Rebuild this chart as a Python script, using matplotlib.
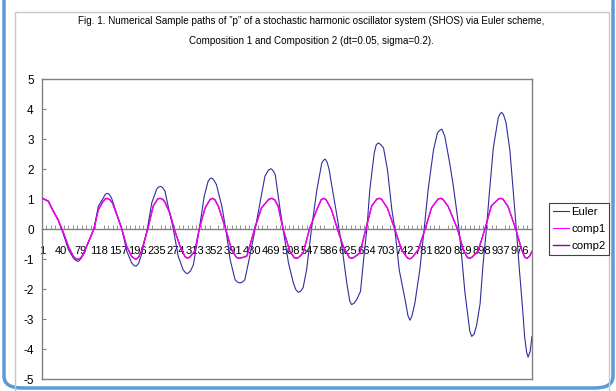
import matplotlib
matplotlib.use("Agg")
import matplotlib.pyplot as plt
from matplotlib.lines import Line2D
from matplotlib.patches import Rectangle, FancyBboxPatch
from matplotlib.ticker import FixedLocator

plt.rcParams['font.family'] = ['Liberation Sans', 'DejaVu Sans']

# values (category index, p)
euler_t = [1, 14, 24, 34, 45, 55, 65, 70, 75, 80, 85, 95, 107, 116, 126, 130, 134, 138,
           143, 153, 164, 174, 184, 189, 193, 198, 204, 216, 225, 235, 239, 243, 247,
           252, 260, 269, 279, 289, 294, 298, 304, 310, 322, 332, 340, 344, 347, 351,
           357, 368, 376, 385, 395, 400, 405, 410, 415, 425, 436, 446, 456, 463, 468,
           472, 477, 487, 493, 504, 514, 519, 524, 529, 534, 541, 551, 562, 572, 576,
           579, 583, 587, 592, 602, 613, 623, 629, 633, 638, 643, 651, 658, 664, 670,
           679, 683, 687, 692, 698, 706, 715, 721, 730, 742, 748, 752, 756, 762, 772,
           781, 789, 800, 808, 812, 817, 823, 833, 840, 847, 852, 858, 864, 871, 874,
           878, 883, 888, 895, 901, 908, 914, 922, 932, 935, 939, 943, 948, 956, 963,
           969, 975, 982, 986, 990, 993, 997, 1001]
euler_p = [1.03, 0.92, 0.59, 0.31, -0.19, -0.69, -0.97, -1.05, -1.08, -1.0, -0.86, -0.47,
           0.0, 0.76, 1.03, 1.15, 1.19, 1.16, 1.03, 0.53, 0.0, -0.74, -1.13, -1.22,
           -1.24, -1.15, -0.86, 0.0, 0.87, 1.33, 1.4, 1.42, 1.38, 1.26, 0.64, 0.0,
           -0.91, -1.36, -1.46, -1.49, -1.4, -1.19, 0.0, 1.09, 1.59, 1.68, 1.7, 1.65,
           1.48, 0.76, 0.0, -1.02, -1.69, -1.77, -1.8, -1.77, -1.69, -0.91, 0.0, 0.87,
           1.76, 1.96, 2.01, 1.96, 1.81, 0.64, 0.0, -1.13, -1.8, -2.02, -2.11, -2.07,
           -1.95, -1.36, 0.0, 1.31, 2.2, 2.3, 2.33, 2.22, 1.98, 1.48, 0.53, -0.58, -1.8,
           -2.4, -2.52, -2.47, -2.36, -2.08, -0.91, 0.0, 1.31, 2.53, 2.8, 2.87, 2.82,
           2.7, 1.98, 0.64, 0.0, -1.36, -2.36, -2.9, -3.04, -2.9, -2.47, -1.36, 0.0,
           1.31, 2.64, 3.2, 3.28, 3.33, 3.09, 2.2, 1.48, 0.64, 0.0, -1.0, -2.1, -3.0,
           -3.4, -3.58, -3.5, -3.2, -2.5, -1.2, 0.0, 1.2, 2.7, 3.7, 3.82, 3.89, 3.8,
           3.55, 2.6, 1.2, 0.0, -1.3, -2.7, -3.6, -4.1, -4.27, -4.1, -3.58]

comp1_t = [1, 14, 24, 34, 45, 55, 65, 71, 75, 79, 85, 95, 107, 116, 126, 130, 134, 139,
           145, 155, 164, 174, 184, 189, 193, 198, 204, 217, 228, 237, 242, 247, 252,
           262, 271, 283, 293, 298, 303, 313, 322, 334, 344, 349, 354, 361, 376, 388,
           398, 403, 410, 419, 435, 449, 464, 470, 476, 483, 493, 507, 516, 521, 526,
           534, 547, 562, 571, 576, 581, 592, 604, 616, 628, 633, 638, 650, 662, 674,
           684, 689, 694, 706, 721, 735, 747, 752, 757, 769, 783, 796, 809, 814, 819,
           830, 849, 861, 869, 874, 879, 891, 905, 918, 932, 937, 942, 952, 968, 980,
           986, 991, 996, 1001]
comp1_p = [1.03, 0.92, 0.59, 0.31, -0.13, -0.58, -0.91, -1.0, -1.02, -0.99, -0.86, -0.47,
           0.0, 0.64, 0.92, 1.0, 1.03, 0.99, 0.87, 0.42, 0.0, -0.58, -0.91, -0.98, -1.0,
           -0.95, -0.74, 0.0, 0.76, 1.0, 1.03, 1.0, 0.9, 0.53, 0.0, -0.58, -0.93, -0.98,
           -0.94, -0.74, 0.0, 0.7, 0.99, 1.03, 0.98, 0.76, 0.0, -0.69, -0.94, -0.97,
           -0.96, -0.91, 0.0, 0.7, 1.0, 1.03, 0.98, 0.76, 0.0, -0.74, -0.95, -0.97,
           -0.94, -0.8, 0.0, 0.64, 0.99, 1.03, 0.98, 0.64, 0.0, -0.58, -0.94, -0.97,
           -0.95, -0.8, 0.0, 0.76, 1.0, 1.03, 1.0, 0.7, 0.0, -0.69, -0.96, -0.99, -0.95,
           -0.69, 0.0, 0.7, 1.0, 1.03, 1.0, 0.76, 0.0, -0.69, -0.94, -0.97, -0.94, -0.74,
           0.0, 0.76, 1.0, 1.03, 1.0, 0.76, 0.0, -0.69, -0.93, -0.97, -0.9, -0.74]

comp2_t = comp1_t
comp2_p = [1.03, 0.93, 0.6, 0.3, -0.14, -0.59, -0.92, -1.0, -1.01, -0.98, -0.85, -0.46,
           0.01, 0.65, 0.93, 1.0, 1.02, 0.98, 0.86, 0.41, -0.01, -0.59, -0.92, -0.98,
           -1.01, -0.94, -0.73, 0.01, 0.77, 1.0, 1.02, 0.99, 0.89, 0.52, -0.01, -0.59,
           -0.92, -0.97, -0.93, -0.73, 0.01, 0.71, 0.98, 1.02, 0.97, 0.75, -0.01, -0.7,
           -0.95, -0.98, -0.95, -0.9, 0.01, 0.71, 0.99, 1.02, 0.97, 0.75, -0.01, -0.75,
           -0.96, -0.98, -0.93, -0.79, 0.01, 0.65, 0.98, 1.02, 0.97, 0.63, -0.01, -0.59,
           -0.95, -0.98, -0.94, -0.79, 0.01, 0.77, 0.99, 1.02, 0.99, 0.69, -0.01, -0.7,
           -0.97, -1.0, -0.94, -0.68, 0.01, 0.71, 0.99, 1.02, 0.99, 0.75, -0.01, -0.7,
           -0.95, -0.98, -0.93, -0.73, 0.01, 0.77, 0.99, 1.02, 0.99, 0.75, -0.01, -0.7,
           -0.94, -0.98, -0.91, -0.75]

xtick_cats = list(range(1, 1001, 39))
ytick_vals = list(range(-5, 6))

title1 = "Fig. 1. Numerical Sample paths of \u201dp\u201d of a stochastic harmonic oscillator system (SHOS) via Euler scheme,"
title2 = "Composition 1 and Composition 2 (dt=0.05, sigma=0.2)."

gray = '#808080'

fig = plt.figure(figsize=(6.16, 3.91), dpi=100)
fig.patch.set_facecolor('white')

# outer panel and chart area frames
fig.patches.append(FancyBboxPatch((4 / 616, 3 / 391), 609 / 616, 1.2,
                                  boxstyle='round,pad=0,rounding_size=0.03',
                                  transform=fig.transFigure, fill=False,
                                  edgecolor='#5B9BD5', lw=2.5))
fig.patches.append(Rectangle((15 / 616, -0.1), 594 / 616, 1.1 - 12 / 391,
                             transform=fig.transFigure, fill=False,
                             edgecolor='#C8C8C8', lw=1))

ax = fig.add_axes([42 / 616, 1 - 379 / 391, 490 / 616, 300 / 391])

l_euler, = ax.plot(euler_t, euler_p, color='#2e2e9e', lw=0.8, zorder=2)
l_comp2, = ax.plot(comp2_t, comp2_p, color='#990099', lw=1.0, zorder=3)
l_comp1, = ax.plot(comp1_t, comp1_p, color='#FF00FF', lw=0.8, zorder=4)

ax.set_xlim(1, 1001)
ax.set_ylim(-5, 5)

for s in ax.spines.values():
    s.set_color(gray)
    s.set_linewidth(1)
ax.spines['bottom'].set_position(('data', 0))
ax.add_line(Line2D([0, 1], [0, 0], transform=ax.transAxes, color=gray, lw=1,
                   clip_on=False))

ax.set_yticks(ytick_vals)
ax.set_yticklabels([str(v) for v in ytick_vals])
ax.tick_params(axis='y', direction='in', length=3, color=gray, labelsize=8.5, pad=6)

ax.set_xticks(xtick_cats)
ax.set_xticklabels([str(c) for c in xtick_cats])
ax.xaxis.set_minor_locator(FixedLocator(list(range(1, 1002, 9))))
ax.tick_params(axis='x', which='major', length=0, labelsize=8, pad=12)
ax.tick_params(axis='x', which='minor', direction='in', length=3, color=gray)

fig.text(311 / 616, 1 - 21 / 391, title1, ha='center', va='center', fontsize=7.1)
fig.text(311 / 616, 1 - 41 / 391, title2, ha='center', va='center', fontsize=7.1)

leg = fig.legend([l_euler, l_comp1, l_comp2], ['Euler', 'comp1', 'comp2'],
                 loc='upper left', bbox_to_anchor=(549 / 616, 1 - 203 / 391),
                 frameon=True, fancybox=False, edgecolor='#404040', framealpha=1,
                 fontsize=8.2, handlelength=1.4, handletextpad=0.2, borderpad=0.35,
                 labelspacing=0.6, borderaxespad=0)
leg.get_frame().set_linewidth(0.8)

fig.savefig('out.png', dpi=100)
